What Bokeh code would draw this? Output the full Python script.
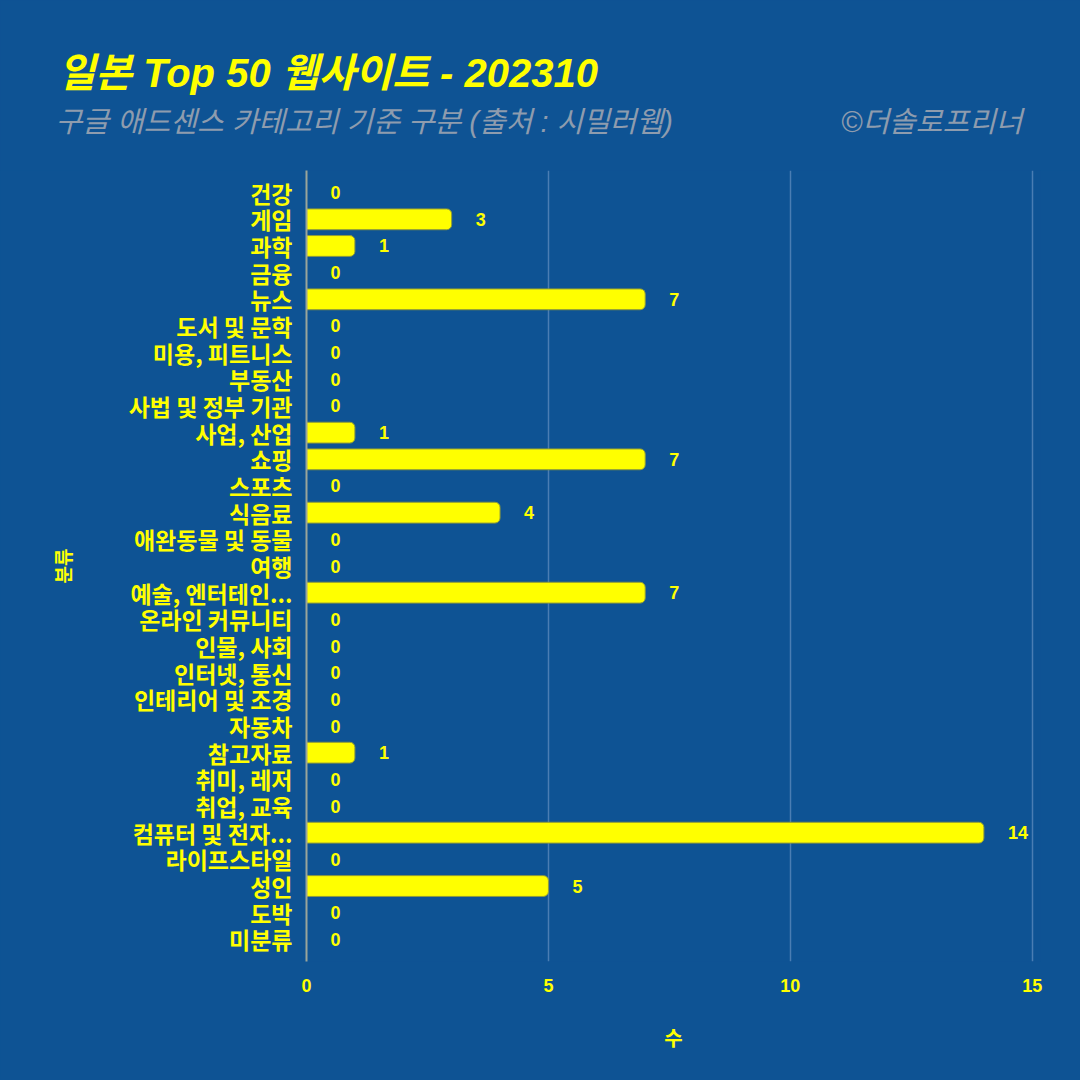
from bokeh.plotting import figure
from bokeh.layouts import column
from bokeh.models import FactorRange, Range1d, ColumnDataSource, FixedTicker
from bokeh.core.properties import value
from bokeh.embed import file_html
from bokeh.resources import INLINE

categories = ["건강", "게임", "과학", "금융", "뉴스", "도서 및 문학", "미용, 피트니스", "부동산",
              "사법 및 정부 기관", "사업, 산업", "쇼핑", "스포츠", "식음료", "애완동물 및 동물", "여행",
              "예술, 엔터테인...", "온라인 커뮤니티", "인물, 사회", "인터넷, 통신", "인테리어 및 조경",
              "자동차", "참고자료", "취미, 레저", "취업, 교육", "컴퓨터 및 전자...", "라이프스타일",
              "성인", "도박", "미분류"]
counts = [0, 3, 1, 0, 7, 0, 0, 0, 0, 1, 7, 0, 4, 0, 0, 7, 0, 0, 0, 0, 0, 1, 0, 0, 14, 0, 5, 0, 0]
x_ticks = [0, 5, 10, 15]

title_text = "일본 Top 50 웹사이트 - 202310"
subtitle_text = "구글 애드센스 카테고리 기준 구분 (출처 : 시밀러웹)"
credit_text = "©더솔로프리너"
x_label = "수"
y_label = "분류"

BG = "#0E5394"
YEL = "#FFFF00"
GRAY = "#8E9CAE"
FONT = "Noto Sans CJK KR"
MIX = "Liberation Sans, Noto Sans CJK KR"

# ---------- header (title, subtitle, credit) ----------
hdr = figure(width=1080, height=170, output_backend="svg", toolbar_location=None,
             x_range=Range1d(0, 1080), y_range=Range1d(170, 0),
             x_axis_location=None, y_axis_location=None, min_border=0)
hdr.styles = {"background-color": BG}
hdr.background_fill_color = BG
hdr.border_fill_color = BG
hdr.outline_line_color = None
hdr.grid.visible = False
hdr.title.visible = False

hdr.text(x=[58], y=[72], text=[title_text], text_color=YEL, text_font=value(MIX),
         text_font_style="bold italic", text_font_size="40px",
         text_align="left", text_baseline="middle")
hdr.text(x=[55], y=[121], text=[subtitle_text], text_color=GRAY, text_font=value(MIX),
         text_font_style="italic", text_font_size="29px",
         text_align="left", text_baseline="middle")
hdr.text(x=[1022], y=[121], text=[credit_text], text_color=GRAY, text_font=value(MIX),
         text_font_style="italic", text_font_size="29px",
         text_align="right", text_baseline="middle")

# ---------- main chart ----------
src = ColumnDataSource(dict(cat=categories, n=counts, lab=[str(c) for c in counts]))

p = figure(width=1080, height=910, output_backend="svg", toolbar_location=None,
           y_range=FactorRange(factors=list(reversed(categories)), range_padding=0.33,
                               range_padding_units="absolute"),
           x_range=Range1d(0, 15.17),
           min_border_left=306, min_border_right=40, min_border_top=0, min_border_bottom=119)

p.styles = {"background-color": BG}
p.background_fill_color = BG
p.border_fill_color = BG
p.outline_line_color = None
p.title.visible = False

for fig in (hdr, p):
    if "frame_align" in fig.properties():
        fig.frame_align = False

p.hbar(y="cat", right="n", left=0, height=0.78, source=src, fill_color=YEL,
       line_color="#8f9a3a", line_width=1, border_radius=(0, 5, 5, 0))
p.text(x="n", y="cat", text="lab", source=src, x_offset=24, text_align="left",
       text_baseline="middle", text_color=YEL, text_font=value(MIX),
       text_font_style="bold", text_font_size="18px")

p.ygrid.grid_line_color = None
p.xgrid.grid_line_color = "#4A7DB3"
p.xgrid.grid_line_width = 1.5
p.xaxis.ticker = FixedTicker(ticks=x_ticks)

for ax in (p.xaxis[0], p.yaxis[0]):
    ax.major_label_text_color = YEL
    ax.major_label_text_font_style = "bold"
    ax.major_tick_line_color = None
    ax.minor_tick_line_color = None
    ax.axis_label_text_color = YEL
    ax.axis_label_text_font = FONT
    ax.axis_label_text_font_style = "bold"

p.xaxis.axis_line_color = None
p.xaxis.major_label_text_font = MIX
p.xaxis.major_label_text_font_size = "18px"
p.xaxis.major_label_standoff = 11
p.xaxis.axis_label = x_label
p.xaxis.axis_label_text_font_size = "20px"
p.xaxis.axis_label_standoff = 28

p.yaxis.axis_line_color = "#9AA59A"
p.yaxis.axis_line_width = 2
p.yaxis.major_label_text_font = FONT
p.yaxis.major_label_text_font_size = "23px"
p.yaxis.major_label_standoff = 8
p.yaxis.axis_label = y_label
p.yaxis.axis_label_text_font_size = "19px"
p.yaxis.axis_label_standoff = 50

layout = column(hdr, p, spacing=0)
layout.styles = {"background-color": BG}

open("out.html", "w").write(file_html(layout, INLINE))
